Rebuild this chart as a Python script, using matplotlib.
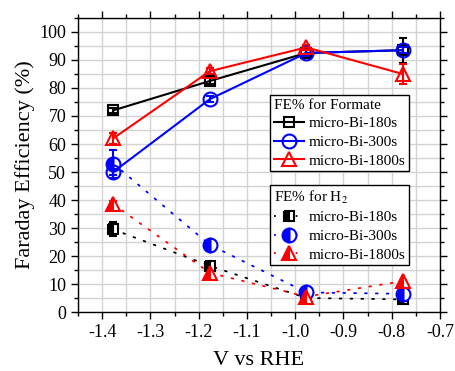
import matplotlib
matplotlib.use("Agg")
import matplotlib.pyplot as plt
from matplotlib.ticker import MultipleLocator

plt.rcParams["font.family"] = ["Liberation Serif", "DejaVu Serif"]
plt.rcParams["mathtext.fontset"] = "stix"
plt.rcParams["axes.unicode_minus"] = False

# potentials (V vs RHE)
volts = [-1.377, -1.177, -0.977, -0.777]
samples = ["micro-Bi-180s", "micro-Bi-300s", "micro-Bi-1800s"]
colors = ["black", "blue", "red"]
markers = ["s", "o", "^"]

# FE% for formate
formate = [
    [72.0, 82.5, 92.5, 93.5],
    [50.0, 76.0, 92.5, 93.5],
    [62.0, 86.0, 94.5, 85.0],
]
formate_err = [
    [1.0, 1.0, 1.0, 4.5],
    [1.0, 1.0, 1.0, 1.0],
    [2.0, 1.0, 1.0, 3.5],
]

# FE% for H2
h2 = [
    [29.5, 16.5, 5.0, 4.5],
    [53.0, 24.0, 7.0, 6.5],
    [38.5, 14.0, 5.5, 11.0],
]
h2_err = [
    [2.5, 1.5, 0.5, 0.5],
    [5.0, 1.0, 0.5, 0.5],
    [1.0, 1.0, 0.5, 0.5],
]

msizes = [7.5, 10, 10]

fig = plt.figure(figsize=(4.55, 3.71), dpi=100)
ax = fig.add_axes([0.1714, 0.159, 0.7956, 0.7925])

h2_handles = []
for i in range(3):
    ax.errorbar(volts, h2[i], yerr=h2_err[i], fmt="none", ecolor=colors[i],
                elinewidth=1.5, capsize=3, capthick=1.5, zorder=3)
    ax.plot(volts, h2[i], color=colors[i], lw=1.3, ls=(0, (1, 5)),
            dash_capstyle="round", zorder=3)
    ax.plot(volts, h2[i], ls="none", marker=markers[i], ms=msizes[i],
            color=colors[i], mec=colors[i], mfc=colors[i], mfcalt="white",
            fillstyle="left", mew=1.5, zorder=4)
    h, = ax.plot([], [], color=colors[i], lw=1.3, ls=(0, (1, 5)),
                 marker=markers[i], ms=msizes[i], mec=colors[i], mfc=colors[i],
                 mfcalt="white", fillstyle="left", mew=1.5)
    h2_handles.append(h)

form_handles = []
for i in range(3):
    ax.errorbar(volts, formate[i], yerr=formate_err[i], fmt="none", ecolor=colors[i],
                elinewidth=1.5, capsize=3, capthick=1.5, zorder=5)
    h, = ax.plot(volts, formate[i], color=colors[i], lw=1.5, marker=markers[i],
                 ms=msizes[i], mfc="none", mec=colors[i], mew=1.5, zorder=6)
    form_handles.append(h)

ax.set_xlim(-1.45, -0.7)
ax.set_ylim(0, 105)
ax.xaxis.set_major_locator(MultipleLocator(0.1))
ax.xaxis.set_minor_locator(MultipleLocator(0.05))
ax.yaxis.set_major_locator(MultipleLocator(10))
ax.yaxis.set_minor_locator(MultipleLocator(5))
ax.set_xticks([-1.4, -1.3, -1.2, -1.1, -1.0, -0.9, -0.8, -0.7])
ax.set_xticklabels(["-1.4", "-1.3", "-1.2", "-1.1", "-1.0", "-0.9", "-0.8", "-0.7"])
ax.tick_params(which="both", direction="out", top=True, right=True, width=1, labelsize=13)
ax.tick_params(which="major", length=5)
ax.tick_params(which="minor", length=3)
ax.grid(True, which="both", color="#d3d3d3", lw=1, zorder=0)
ax.set_axisbelow(True)
for s in ax.spines.values():
    s.set_linewidth(1)

ax.set_xlabel("V vs RHE", fontsize=16, labelpad=7)
ax.set_ylabel("Faraday Efficiency (%)", fontsize=16, labelpad=3)

leg_kw = dict(loc="upper left", fontsize=11, title_fontsize=11,
              frameon=True, fancybox=False, edgecolor="black", framealpha=1,
              handlelength=2.0, handletextpad=0.3, borderpad=0.25,
              labelspacing=0.32, borderaxespad=0, alignment="left")

leg1 = ax.legend(form_handles, samples, title="FE% for Formate",
                 bbox_to_anchor=(0.53, 0.738), **leg_kw)
leg1.get_frame().set_linewidth(1)
leg1.set_zorder(10)
ax.add_artist(leg1)

leg2 = ax.legend(h2_handles, samples, title="FE% for H$_2$",
                 bbox_to_anchor=(0.53, 0.432), **leg_kw)
leg2.get_frame().set_linewidth(1)
leg2.set_zorder(10)

fig.savefig("out.png", dpi=100)
